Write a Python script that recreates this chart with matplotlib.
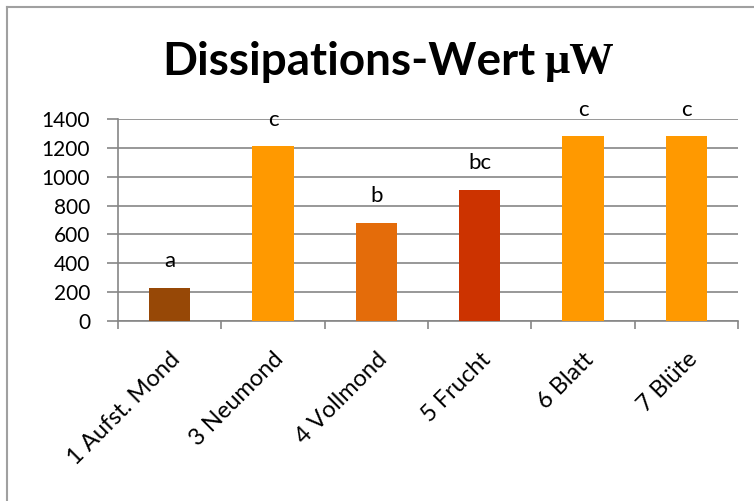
import matplotlib.pyplot as plt
from matplotlib.lines import Line2D

categories = ["1 Aufst. Mond", "3 Neumond", "4 Vollmond", "5 Frucht", "6 Blatt", "7 Blüte"]
values = [230, 1210, 680, 910, 1280, 1280]
letters = ["a", "c", "b", "bc", "c", "c"]
colors = ["#974806", "#FF9900", "#E46C0A", "#CC3300", "#FF9900", "#FF9900"]

plt.rcParams['font.family'] = ['Lato', 'DejaVu Sans']
grid_col = "#868686"

fig = plt.figure(figsize=(7.54, 5.01), dpi=100)
ax = fig.add_axes([118 / 754, 1 - 321 / 501, 620 / 754, 202 / 501])

x = range(len(categories))
ax.bar(x, values, width=0.4, color=colors, zorder=3)
for xi, v, t in zip(x, values, letters):
    ax.annotate(t, (xi, v), xytext=(0, 19), textcoords="offset points",
                ha="center", va="center", fontsize=16)

ax.set_xlim(-0.5, len(categories) - 0.5)
ax.set_ylim(0, 1400)
ax.set_yticks(range(0, 1401, 200))
ax.yaxis.grid(True, color=grid_col, linewidth=1.2, zorder=0)
ax.tick_params(axis="y", length=8, width=1.2, color=grid_col, labelsize=15, pad=12)

# category ticks sit on the boundaries between bars
ax.set_xticks([i - 0.5 for i in range(len(categories) + 1)], minor=False)
ax.set_xticklabels([])
ax.tick_params(axis="x", length=6, width=1.2, color=grid_col)
ax.set_xticks(list(x), minor=True)
ax.set_xticklabels(categories, minor=True, rotation=45, ha="right",
                   rotation_mode="anchor", fontsize=17)
ax.tick_params(axis="x", which="minor", length=0, pad=20)

for s in ["top", "right"]:
    ax.spines[s].set_visible(False)
for s in ["left", "bottom"]:
    ax.spines[s].set_color(grid_col)
    ax.spines[s].set_linewidth(1.2)

fig.text(536 / 754, 1 - 62 / 501, "Dissipations-Wert", ha="right", va="center",
         fontsize=33, fontweight="bold")
fig.text(544 / 754, 1 - 62 / 501, "μW", ha="left", va="center",
         fontsize=32, fontweight="bold", family=["Liberation Serif", "DejaVu Serif"])

# outer chart border
fig.add_artist(Line2D([7 / 754, 7 / 754], [0, 1 - 7 / 501], color="#A0A0A0", lw=1.5))
fig.add_artist(Line2D([7 / 754, 1], [1 - 7 / 501, 1 - 7 / 501], color="#A0A0A0", lw=1.5))

fig.savefig("out.png", dpi=100)
